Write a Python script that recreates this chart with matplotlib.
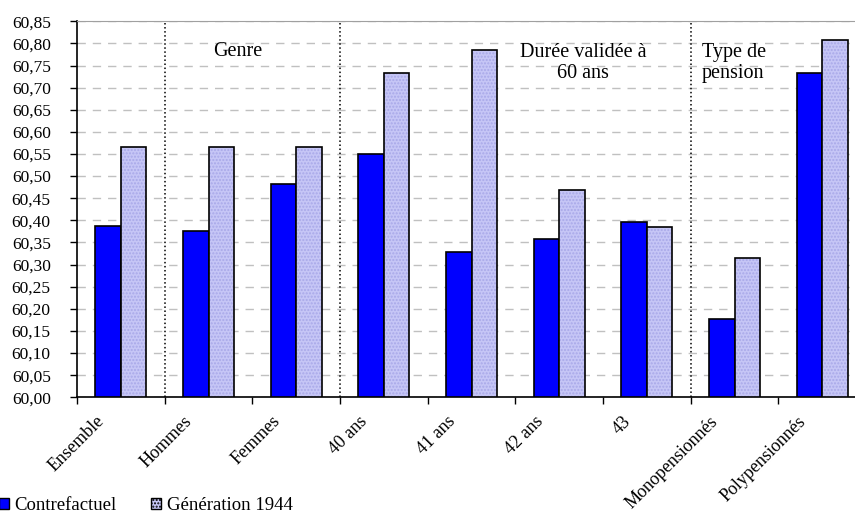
import matplotlib.pyplot as plt
from matplotlib.patches import Patch
from matplotlib.transforms import ScaledTranslation
import numpy as np

plt.rcParams['font.family'] = ['Liberation Serif', 'DejaVu Serif']

categories = ['Ensemble', 'Hommes', 'Femmes', '40 ans', '41 ans', '42 ans', '43',
              'Monopensionnés', 'Polypensionnés']
contrefactuel = [60.388, 60.375, 60.483, 60.550, 60.329, 60.357, 60.396, 60.177, 60.734]
generation_1944 = [60.565, 60.565, 60.565, 60.734, 60.786, 60.469, 60.385, 60.314, 60.807]
y_ticks = np.arange(60.00, 60.851, 0.05)

blue = '#0000ff'
lavender = '#c6c6f6'

fig = plt.figure(figsize=(8.55, 5.13), dpi=100)
# axes run a little past the right edge of the figure
ax = fig.add_axes([0.0901, 0.2255, 0.9228, 0.733])

x = np.arange(len(categories))
w = 0.29
ax.bar(x - w / 2, [v - 60 for v in contrefactuel], w, bottom=60, color=blue,
       edgecolor='black', linewidth=1.2, zorder=3)
# dotted fill for the second series, then the outline on top
ax.bar(x + w / 2, [v - 60 for v in generation_1944], w, bottom=60, color=lavender,
       edgecolor='#a8a8e8', linewidth=0, hatch='.....', zorder=3)
ax.bar(x + w / 2, [v - 60 for v in generation_1944], w, bottom=60, fill=False,
       edgecolor='black', linewidth=1.2, zorder=4)

ax.set_xlim(-0.5, len(categories) - 0.5)
ax.set_ylim(60.0, 60.85)
ax.set_yticks(y_ticks)
ax.set_yticklabels([f'{v:.2f}'.replace('.', ',') for v in y_ticks], fontsize=12.5)
ax.tick_params(axis='y', direction='out', length=5, width=1, pad=14)

ax.set_xticks(x)
ax.set_xticklabels(categories, rotation=45, ha='right', va='center',
                   rotation_mode='anchor', fontsize=13)
ax.tick_params(axis='x', which='major', length=0, pad=14)
shift = ScaledTranslation(-19 / 100, -2 / 100, fig.dpi_scale_trans)
for lbl in ax.get_xticklabels():
    lbl.set_transform(lbl.get_transform() + shift)
ax.set_xticks(np.arange(-0.5, len(categories), 1), minor=True)
ax.tick_params(axis='x', which='minor', direction='out', length=5, width=1)

ax.grid(axis='y', color='#c0c0c0', linestyle=(0, (6, 5)), linewidth=1, zorder=0)
ax.spines['top'].set_color('#a0a0a0')
ax.spines['right'].set_visible(False)
ax.spines['left'].set_linewidth(1.2)
ax.spines['bottom'].set_linewidth(1.2)

# group separators
for xs in [0.5, 2.5, 6.5]:
    ax.axvline(xs, color='black', linestyle=':', linewidth=1.1, zorder=2)

ax.text(1.33, 60.781, 'Genre', ha='center', va='center', fontsize=14.5)
ax.text(5.27, 60.755, 'Durée validée à\n60 ans', ha='center', va='center',
        fontsize=14.5, linespacing=1.15)
ax.text(6.63, 60.755, 'Type de\npension', ha='left', va='center',
        fontsize=14.5, linespacing=1.15)

handles = [Patch(facecolor=blue, edgecolor='black', linewidth=1),
           Patch(facecolor=lavender, edgecolor='black', linewidth=1, hatch='.....')]
fig.legend(handles, ['Contrefactuel', 'Génération 1944'], loc='lower left',
           bbox_to_anchor=(-0.019, -0.031), ncol=2, frameon=False, fontsize=13.5,
           handlelength=0.55, handleheight=0.55, handletextpad=0.3,
           columnspacing=1.8, borderpad=0.3)

fig.savefig('out.png', dpi=100)
